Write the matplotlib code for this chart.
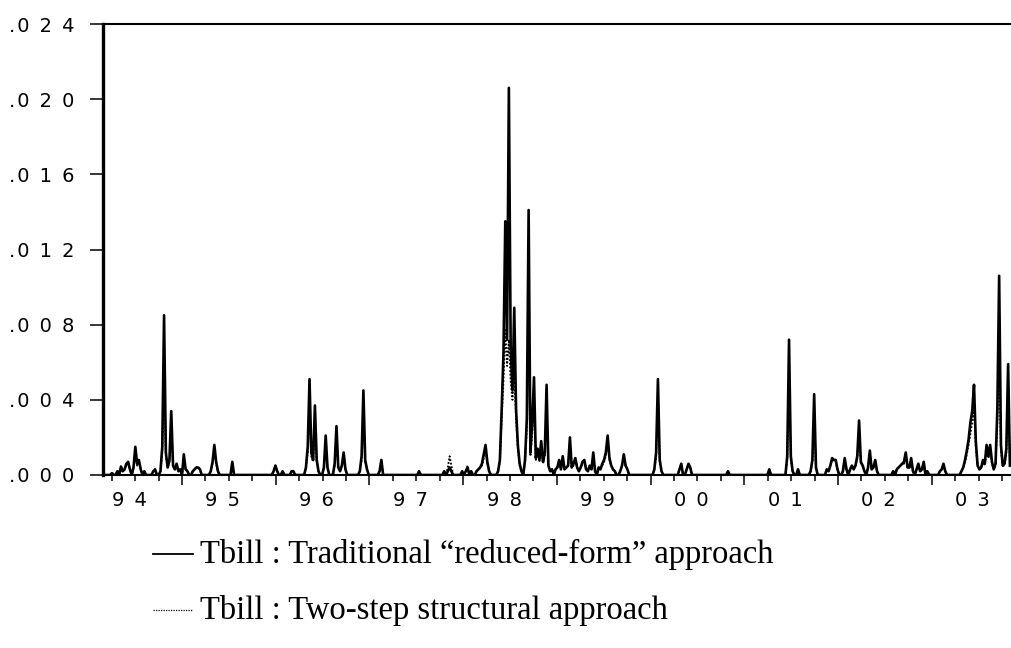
import matplotlib
matplotlib.use("Agg")
import matplotlib.pyplot as plt
from matplotlib.lines import Line2D
import matplotlib.transforms as mtransforms
import numpy as np

# weekly sample, first observation at the end of November 1993
n_weeks = 506
first_week = 1993.907
weeks_per_year = 52.18

# weeks with a visible value (all other weeks are ~0)
spike_week = [
    5, 8, 10, 11, 12, 13, 14, 15, 17, 18, 19, 20, 21, 23, 28, 29, 32, 33, 34, 35,
    36, 37, 38, 39, 40, 41, 42, 43, 45, 46, 47, 50, 51, 52, 53, 54, 60, 61, 62, 63,
    64, 72, 95, 96, 97, 100, 105, 106, 113, 114, 115, 116, 117, 118, 119, 120, 123, 124, 125, 129,
    130, 131, 132, 133, 134, 135, 143, 144, 145, 146, 147, 154, 155, 176, 190, 192, 193, 194, 200, 202,
    203, 205, 208, 209, 210, 211, 212, 213, 214, 215, 220, 221, 222, 223, 224, 225, 226, 227, 228, 229,
    230, 231, 232, 233, 235, 236, 237, 238, 239, 240, 241, 242, 243, 244, 245, 246, 247, 248, 249, 250,
    252, 253, 254, 255, 256, 257, 258, 259, 260, 261, 262, 263, 264, 265, 266, 267, 268, 269, 270, 271,
    272, 273, 274, 276, 277, 278, 279, 280, 281, 282, 283, 284, 285, 288, 289, 290, 291, 292, 307, 308,
    309, 310, 311, 321, 322, 325, 326, 327, 348, 371, 381, 382, 383, 384, 387, 394, 395, 396, 397, 403,
    404, 405, 406, 407, 408, 409, 412, 413, 414, 416, 417, 418, 419, 420, 421, 422, 423, 424, 426, 427,
    428, 429, 430, 431, 440, 442, 443, 444, 445, 446, 447, 448, 449, 450, 451, 453, 454, 455, 456, 457,
    459, 466, 467, 468, 469, 478, 479, 480, 481, 482, 483, 484, 485, 486, 487, 488, 489, 490, 491, 492,
    493, 494, 495, 496, 497, 498, 499, 500, 501, 502, 503, 504, 505,
]

# Tbill : traditional "reduced-form" approach
trad = [
    .0001, .0002, .00045, .0002, .0003, .0006, .0007, .0003, .0004, .0015, .0006, .0008, .0003, .0002, .0002, .0003, .0002, .0015, .0085, .0012,
    .0004, .0008, .0034, .0005, .0003, .0006, .0002, .0003, .0011, .0003, .0002, .0002, .0003, .0004, .0004, .0003, .0002, .0007, .0016, .0007,
    .0002, .0007, .0002, .0005, .0002, .0002, .0002, .0002, .0004, .0015, .0051, .0012, .0008, .0037, .0008, .0002, .0004, .0021, .0004, .0006,
    .0026, .0004, .0002, .0005, .0012, .0003, .0002, .0010, .0045, .0008, .0003, .0002, .0008, .0002, .0002, .0002, .0004, .0002, .0002, .0002,
    .0004, .0002, .0002, .0003, .0004, .0006, .0011, .0016, .0007, .0002, .0002, .0008, .0035, .0065, .0135, .0072, .0206, .0068, .0045, .0089,
    .0035, .0016, .0006, .0002, .0008, .0030, .0141, .0012, .0028, .0052, .0009, .0014, .0008, .0018, .0007, .0012, .0048, .0005, .0002, .0003,
    .0003, .0004, .0008, .0003, .0010, .0003, .0004, .0005, .0020, .0004, .0006, .0009, .0004, .0002, .0004, .0007, .0008, .0003, .0002, .0005,
    .0003, .0012, .0002, .0004, .0003, .0006, .0008, .0012, .0021, .0009, .0005, .0003, .0002, .0002, .0005, .0011, .0005, .0003, .0003, .0012,
    .0051, .0008, .0002, .0003, .0006, .0003, .0006, .0004, .0002, .0003, .0010, .0072, .0010, .0002, .0003, .0002, .0008, .0043, .0004, .0003,
    .0002, .0005, .0009, .0008, .0008, .0003, .0002, .0009, .0003, .0003, .0005, .0003, .0005, .0010, .0029, .0007, .0005, .0002, .0004, .0013,
    .0003, .0004, .0008, .0002, .0002, .0003, .0004, .0005, .0006, .0007, .0012, .0004, .0004, .0009, .0002, .0003, .0006, .0002, .0003, .0007,
    .0002, .0002, .0003, .0006, .0002, .0002, .0004, .0008, .0013, .0019, .0028, .0034, .0048, .0018, .0005, .0003, .0004, .0008, .0006, .0016,
    .0010, .0016, .0007, .0003, .0006, .0035, .0106, .0016, .0005, .0006, .0014, .0059, .0005,
]

# Tbill : two-step structural approach
struct = [
    .0001, .0002, .0004, .0002, .0003, .0005, .0006, .0003, .0004, .0011, .0005, .0006, .0003, .0002, .0002, .0003, .0002, .0012, .0055, .0010,
    .0004, .0007, .0025, .0005, .0003, .0005, .0002, .0003, .0009, .0003, .0002, .0002, .0003, .0004, .0004, .0003, .0002, .0006, .0013, .0006,
    .0002, .0006, .0002, .0005, .0002, .0002, .0002, .0002, .0004, .0012, .0035, .0010, .0007, .0027, .0007, .0002, .0004, .0016, .0004, .0005,
    .0019, .0004, .0002, .0005, .0010, .0003, .0002, .0008, .0032, .0007, .0003, .0002, .0007, .0002, .0002, .0004, .0010, .0005, .0002, .0002,
    .0005, .0002, .0002, .0003, .0004, .0005, .0009, .0014, .0006, .0002, .0002, .0007, .0030, .0050, .0078, .0058, .0072, .0050, .0040, .0055,
    .0030, .0014, .0005, .0002, .0007, .0025, .0075, .0010, .0022, .0040, .0008, .0012, .0007, .0015, .0006, .0010, .0036, .0005, .0002, .0003,
    .0003, .0004, .0007, .0003, .0009, .0003, .0004, .0005, .0017, .0004, .0005, .0008, .0004, .0002, .0004, .0006, .0007, .0003, .0002, .0005,
    .0003, .0010, .0002, .0004, .0003, .0005, .0007, .0010, .0018, .0008, .0005, .0003, .0002, .0002, .0005, .0009, .0005, .0003, .0003, .0010,
    .0035, .0007, .0002, .0003, .0005, .0003, .0005, .0004, .0002, .0003, .0008, .0050, .0008, .0002, .0003, .0002, .0007, .0030, .0004, .0003,
    .0002, .0005, .0008, .0007, .0007, .0003, .0002, .0008, .0003, .0003, .0005, .0003, .0005, .0009, .0022, .0006, .0005, .0002, .0004, .0011,
    .0003, .0004, .0007, .0002, .0002, .0003, .0004, .0005, .0006, .0006, .0010, .0004, .0004, .0008, .0002, .0003, .0005, .0002, .0003, .0006,
    .0002, .0002, .0003, .0005, .0002, .0002, .0004, .0007, .0011, .0016, .0022, .0028, .0036, .0015, .0005, .0003, .0004, .0007, .0005, .0013,
    .0009, .0013, .0006, .0003, .0005, .0028, .0065, .0013, .0005, .0005, .0012, .0042, .0005,
]

years = list(range(1994, 2004))
year_labels = ["94", "95", "96", "97", "98", "99", "00", "01", "02", "03"]
y_ticks = [0.000, 0.004, 0.008, 0.012, 0.016, 0.020, 0.024]
y_labels = [".000", ".004", ".008", ".012", ".016", ".020", ".024"]
legend_labels = [
    "Tbill : Traditional \u201creduced-form\u201d approach",
    "Tbill : Two-step structural approach",
]


def spaced(s):
    # digits spread apart, EViews style; a leading dot stays close
    if s.startswith("."):
        return ".\u200a" + " \u2009".join(s[1:])
    return " \u2009".join(s)


t = first_week + np.arange(n_weeks) / weeks_per_year
trad_full = np.zeros(n_weeks)
struct_full = np.zeros(n_weeks)
trad_full[spike_week] = trad
struct_full[spike_week] = struct

W, H = 1011, 648
fig = plt.figure(figsize=(W / 100, H / 100), dpi=100)
ax = fig.add_axes([103 / W, 1 - 475 / H, 1 - 103 / W, 451 / H])

ax.plot(t, struct_full, color="black", lw=1.3, ls=(0, (1, 1)))
ax.plot(t, trad_full, color="black", lw=1.9)

x_lo = first_week
x_hi = first_week + (n_weeks - 0.4) / weeks_per_year

ax.spines["right"].set_visible(False)
ax.spines["left"].set_linewidth(2.4)
ax.spines["top"].set_linewidth(1.5)
ax.spines["bottom"].set_linewidth(1.5)

tick_font = {"family": ["DejaVu Sans"], "size": 14}

ax.set_yticks(y_ticks)
ax.set_yticklabels([spaced(s) for s in y_labels], fontdict=tick_font)
ax.tick_params(axis="y", direction="out", length=9.5, width=1.1, pad=11)

# long ticks three quarters into each year, short ticks on the other quarters
major = [y + 0.75 for y in [1993] + years]
minor = [y + q for y in [1993] + years for q in (0.0, 0.25, 0.5)]
ax.set_xticks([v for v in major if x_lo <= v <= x_hi])
ax.set_xticks([v for v in minor if x_lo <= v <= x_hi], minor=True)
ax.set_xticklabels([])
ax.tick_params(axis="x", which="major", direction="out", length=7.5, width=1.1)
ax.tick_params(axis="x", which="minor", direction="out", length=4.5, width=1.1)

ax.set_xlim(x_lo, x_hi)
ax.set_ylim(0, 0.024)

trans = mtransforms.blended_transform_factory(ax.transData, ax.transAxes)
for y, lab in zip(years, year_labels):
    ax.text(y, -0.035, spaced(lab), transform=trans, ha="left", va="top",
            fontdict=tick_font)

# legend below the plot
leg_font = {"family": ["Liberation Serif"], "size": 23.5}
for row, (lab, style) in enumerate(zip(legend_labels, ["-", (0, (1, 1))])):
    yy = 1 - (554 + 56 * row) / H
    fig.add_artist(Line2D([153 / W, 193 / W], [yy, yy], transform=fig.transFigure,
                          color="black", lw=1.3 if row == 0 else 0.9, ls=style))
    fig.text(200 / W, yy, lab, ha="left", va="center", fontdict=leg_font)

fig.savefig("out.png", dpi=100)
